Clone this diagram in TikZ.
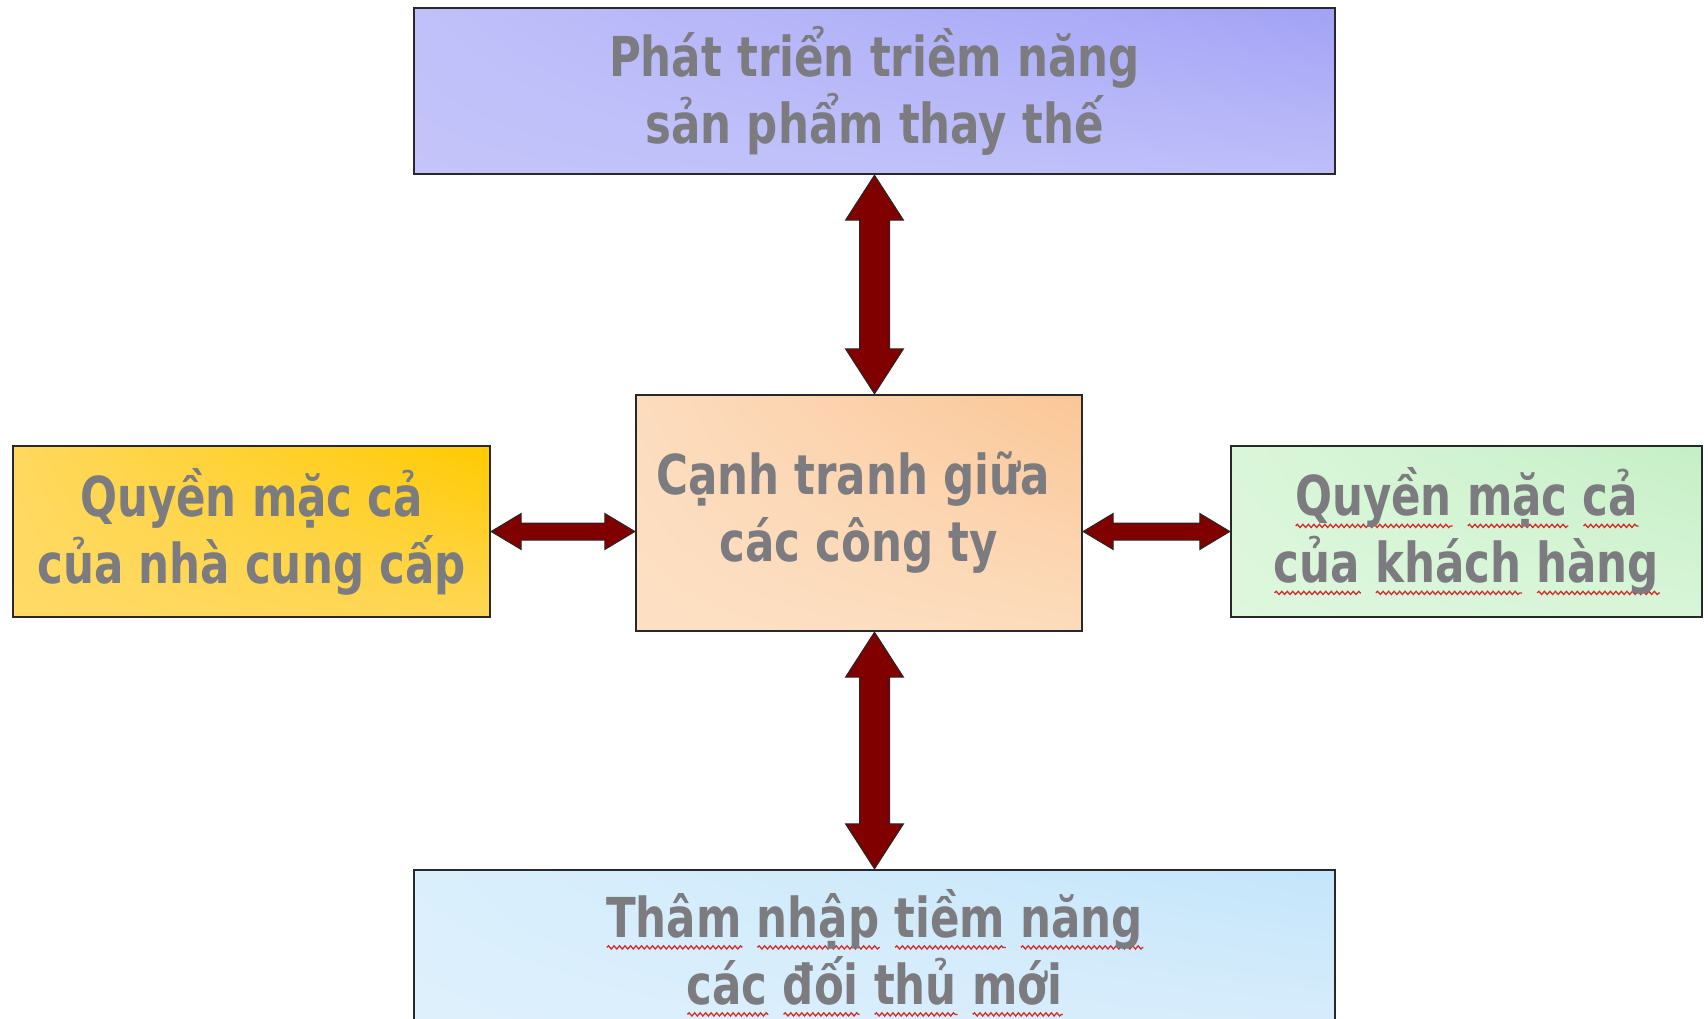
\documentclass[tikz,border=0pt]{standalone}
\usepackage{fontspec}
\usetikzlibrary{calc,shadings,decorations.pathmorphing}

\newfontfamily\boxfont{DejaVu Sans Condensed}[FakeStretch=0.88]

\definecolor{labelgray}{RGB}{124,124,128}
\definecolor{boxline}{RGB}{40,40,44}
\definecolor{arrowred}{RGB}{128,0,0}
\definecolor{squiggle}{RGB}{210,45,45}

% spell-check style wavy underline, one word at a time
\newsavebox\spellbox
\newcommand\spell[1]{%
  \sbox\spellbox{#1}%
  \rlap{\tikz[baseline=0pt]\draw[squiggle, line width=1.3pt,
      decorate, decoration={snake, amplitude=1.6pt, segment length=5.5pt}]
      (0pt,-10pt) -- (\wd\spellbox,-10pt);}%
  \usebox\spellbox}

% double-headed block arrows between two anchors
\newcommand\vconnector[2]{%
  \filldraw[blockarrow] let \p1=(#1), \p2=(#2) in
    (\x1,\y1) -- (\x1+29pt,\y1-45pt) -- (\x1+15pt,\y1-45pt) --
    (\x1+15pt,\y2+45pt) -- (\x1+29pt,\y2+45pt) -- (\x1,\y2) --
    (\x1-29pt,\y2+45pt) -- (\x1-15pt,\y2+45pt) --
    (\x1-15pt,\y1-45pt) -- (\x1-29pt,\y1-45pt) -- cycle;}
\newcommand\hconnector[2]{%
  \filldraw[blockarrow] let \p1=(#1), \p2=(#2) in
    (\x1,\y1) -- (\x1+30pt,\y1+18pt) -- (\x1+30pt,\y1+8.5pt) --
    (\x2-30pt,\y1+8.5pt) -- (\x2-30pt,\y1+18pt) -- (\x2,\y1) --
    (\x2-30pt,\y1-18pt) -- (\x2-30pt,\y1-8.5pt) --
    (\x1+30pt,\y1-8.5pt) -- (\x1+30pt,\y1-18pt) -- cycle;}

\begin{document}
\begin{tikzpicture}[x=1pt,y=-1pt,
  box/.style={draw=boxline, line width=2.4pt, inner sep=0pt, align=center,
    font=\boxfont\bfseries\fontsize{55}{67}\selectfont, text=labelgray},
  blockarrow/.style={fill=arrowred, draw=black!85, line width=1pt, line join=miter},
  ]
  \path[use as bounding box, clip] (0,0) rectangle (1708,1019);
  \fill[white] (0,0) rectangle (1708,1019);

  % the five boxes
  \node[box, minimum width=921pt, minimum height=166pt,
        lower left={rgb,255:red,196;green,196;blue,250},
        upper left={rgb,255:red,192;green,192;blue,250},
        upper right={rgb,255:red,162;green,162;blue,246},
        lower right={rgb,255:red,190;green,190;blue,250}]
    (top) at (874.5,91) {Phát triển triềm năng\\sản phẩm thay thế};

  \node[box, minimum width=446pt, minimum height=236pt,
        lower left={rgb,255:red,253;green,224;blue,196},
        upper left={rgb,255:red,252;green,220;blue,190},
        upper right={rgb,255:red,251;green,198;blue,150},
        lower right={rgb,255:red,252;green,220;blue,188}]
    (center) at (859,513) {Cạnh tranh giữa\hspace*{12pt}\\các công ty};

  \node[box, minimum width=477pt, minimum height=171pt,
        lower left={rgb,255:red,255;green,218;blue,102},
        upper left={rgb,255:red,255;green,216;blue,94},
        upper right={rgb,255:red,255;green,202;blue,0},
        lower right={rgb,255:red,255;green,214;blue,84}]
    (left) at (251.5,531.5) {Quyền mặc cả\\của nhà cung cấp};

  \node[box, minimum width=471pt, minimum height=171pt,
        lower left={rgb,255:red,222;green,247;blue,222},
        upper left={rgb,255:red,218;green,246;blue,218},
        upper right={rgb,255:red,198;green,239;blue,198},
        lower right={rgb,255:red,216;green,245;blue,216}]
    (right) at (1466.5,531.5)
    {\spell{Quyền} \spell{mặc} \spell{cả}\\\spell{của} \spell{khách} \spell{hàng}};

  \node[box, minimum width=921pt, minimum height=166pt,
        lower left={rgb,255:red,222;green,240;blue,252},
        upper left={rgb,255:red,218;green,239;blue,252},
        upper right={rgb,255:red,196;green,229;blue,250},
        lower right={rgb,255:red,216;green,237;blue,252}]
    (bottom) at (874.5,953)
    {\spell{Thâm} \spell{nhập} \spell{tiềm} \spell{năng}\\\spell{các} \spell{đối} \spell{thủ} \spell{mới}};

  % block arrows between the boxes
  \coordinate (topfoot) at (top.south |- center.north);
  \coordinate (bottomhead) at (bottom.north |- center.south);
  \coordinate (leftend) at (center.west |- left.east);
  \coordinate (rightstart) at (center.east |- right.west);
  \vconnector{top.south}{topfoot}
  \vconnector{bottomhead}{bottom.north}
  \hconnector{left.east}{leftend}
  \hconnector{rightstart}{right.west}
\end{tikzpicture}
\end{document}
